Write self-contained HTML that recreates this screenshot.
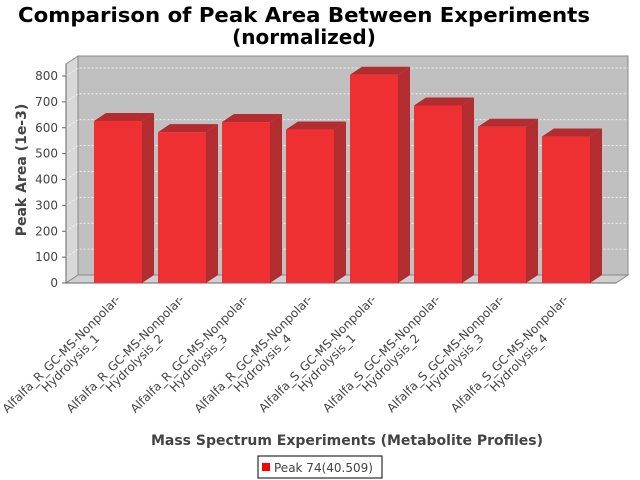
<!DOCTYPE html>
<html><head><meta charset="utf-8"><style>
body{margin:0;background:#fff;}
svg{display:block;font-family:"DejaVu Sans","Liberation Sans",sans-serif;}
</style></head><body>
<svg id="chart" width="640" height="480" viewBox="0 0 640 480">
<text x="304" y="22" text-anchor="middle" font-size="20" font-weight="bold" textLength="572" lengthAdjust="spacingAndGlyphs">Comparison of Peak Area Between Experiments</text>
<text x="304" y="44" text-anchor="middle" font-size="20" font-weight="bold">(normalized)</text>
<g id="plot"></g>
<text transform="translate(26,170) rotate(-90)" text-anchor="middle" font-size="14" font-weight="bold" fill="#444">Peak Area (1e-3)</text>
<text x="347" y="445" text-anchor="middle" font-size="14" font-weight="bold" fill="#444">Mass Spectrum Experiments (Metabolite Profiles)</text>
<g>
<rect x="258" y="456" width="124" height="22" fill="#fff" stroke="#000" stroke-width="1"/>
<rect x="262" y="463" width="8" height="8" fill="#ff0000"/>
<text x="274" y="472" font-size="12" fill="#444">Peak 74(40.509)</text>
</g>
</svg>
<script>
const categories=["Alfalfa_R_GC-MS-Nonpolar-|Hydrolysis_1","Alfalfa_R_GC-MS-Nonpolar-|Hydrolysis_2","Alfalfa_R_GC-MS-Nonpolar-|Hydrolysis_3","Alfalfa_R_GC-MS-Nonpolar-|Hydrolysis_4","Alfalfa_S_GC-MS-Nonpolar-|Hydrolysis_1","Alfalfa_S_GC-MS-Nonpolar-|Hydrolysis_2","Alfalfa_S_GC-MS-Nonpolar-|Hydrolysis_3","Alfalfa_S_GC-MS-Nonpolar-|Hydrolysis_4"];
const values=[626,583,622,593,805,686,604,566];
const yTicks=[0,100,200,300,400,500,600,700,800];
const NS="http://www.w3.org/2000/svg";
const plot=document.getElementById('plot');
const L=66,R=616,B=283,DX=12,DY=8,FTOP=64;
const yMin=0,yMax=800,PX800=207;
function y(v){return B-(v-yMin)/(yMax-yMin)*PX800;}
function x(i){return 94+i*64;}
function mk(tag,attrs,parent){const e=document.createElementNS(NS,tag);for(const k in attrs)e.setAttribute(k,attrs[k]);(parent||plot).appendChild(e);return e;}
let e;
e=mk('polygon',{points:`${L},${B} ${L},${FTOP} ${L+DX},${FTOP-DY} ${L+DX},${B-DY}`,fill:'#d8d8d8',stroke:'#888'});


e=mk('rect',{x:L+DX,y:FTOP-DY,width:R-L,height:B-FTOP,fill:'#c0c0c0',stroke:'#888'});


e=mk('polygon',{points:`${L},${B} ${L+DX},${B-DY} ${R+DX},${B-DY} ${R},${B}`,fill:'#d0d0d0',stroke:'#888'});


for(const t of yTicks){
  const yy=y(t);
  if(t>0){
    e=mk('polyline',{points:`${L},${yy} ${L+DX},${yy-DY} ${R+DX},${yy-DY}`,fill:'none',stroke:'#fff','stroke-dasharray':'2,2','stroke-width':0.8});
    
    
  }
  e=mk('line',{x1:62,x2:66,y1:yy,y2:yy,stroke:'#666'});
  
  
  e=mk('text',{x:58,y:yy+4,'text-anchor':'end','font-size':12,fill:'#444'});
  e.textContent=t;
  
  
}
mk('line',{x1:L,x2:L,y1:B,y2:FTOP,stroke:'#666'});
mk('line',{x1:L,x2:R,y1:B,y2:B,stroke:'#666'});
const W=48;
values.forEach((v,i)=>{
  const x0=x(i),yt=y(v);
  const g=mk('g',{});
  
  
  mk('polygon',{points:`${x0+W},${B} ${x0+W},${yt} ${x0+W+DX},${yt-DY} ${x0+W+DX},${B-DY}`,fill:'#b22c30'},g);
  mk('polygon',{points:`${x0},${yt} ${x0+DX},${yt-DY} ${x0+W+DX},${yt-DY} ${x0+W},${yt}`,fill:'#b22c30'},g);
  mk('rect',{x:x0,y:yt,width:W,height:B-yt,fill:'#ee3033'},g);
  const parts=categories[i].split('|');
  const cx=x0+W/2+3, cy=300;
  const tg=mk('g',{transform:`translate(${cx},${cy}) rotate(-45)`,'font-size':12,fill:'#444'});
  
  
  const t1=mk('text',{x:0,y:0,'text-anchor':'end'},tg);t1.textContent=parts[0];
  const t2=mk('text',{x:0,y:13,'text-anchor':'end'},tg);t2.textContent=parts[1];
  const w1=t1.getComputedTextLength(),w2=t2.getComputedTextLength();
  t2.setAttribute('x',-(w1-w2)/2);
});
</script>
</body></html>
